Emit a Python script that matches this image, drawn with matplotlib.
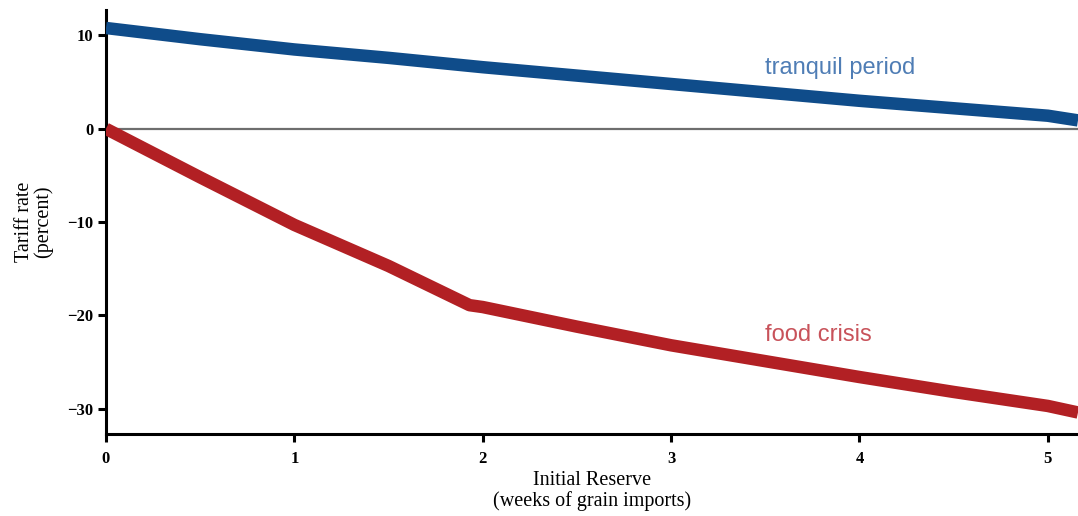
import matplotlib
matplotlib.use("Agg")
import matplotlib.pyplot as plt

# Initial reserve, weeks of grain imports
reserve_weeks = [0.0, 0.5, 1.0, 1.5, 2.0, 2.5, 3.0, 3.5, 4.0, 4.5, 5.0, 5.16]
# Optimal tariff in a tranquil period (percent)
tariff_tranquil = [10.8, 9.6, 8.5, 7.6, 6.6, 5.7, 4.8, 3.9, 3.0, 2.2, 1.4, 0.9]

# Optimal tariff during a food crisis (percent)
crisis_weeks = [0.0, 0.5, 1.0, 1.5, 1.93, 2.0, 2.5, 3.0, 3.5, 4.0, 4.5, 5.0, 5.16]
tariff_crisis = [0.0, -5.2, -10.3, -14.7, -18.9, -19.1, -21.2, -23.2, -24.9, -26.6, -28.2, -29.7, -30.4]

x_ticks = [0, 1, 2, 3, 4, 5]
y_ticks = [-30, -20, -10, 0, 10]
y_tick_labels = ["\u221230", "\u221220", "\u221210", "0", "10"]

serif = ["Liberation Serif", "DejaVu Serif"]
sans = ["Liberation Sans", "DejaVu Sans"]

fig = plt.figure(figsize=(10.78, 5.16), dpi=100)
ax = fig.add_axes([0.0983, 0.159, 0.9017, 0.822])

ax.axhline(0, color="#6e6e6e", lw=1.6, zorder=1)
ax.plot(reserve_weeks, tariff_tranquil, color="#0f4c8a", lw=9,
        solid_capstyle="butt", solid_joinstyle="round", zorder=3)
ax.plot(crisis_weeks, tariff_crisis, color="#b22024", lw=9,
        solid_capstyle="butt", solid_joinstyle="round", zorder=3)

ax.text(3.5, 6.5, "tranquil period", color="#4f7db5", fontsize=17,
        family=sans, ha="left", va="center")
ax.text(3.5, -22.1, "food crisis", color="#c8525a", fontsize=17,
        family=sans, ha="left", va="center")

ax.set_xlim(0, 5.16)
ax.set_ylim(-32.7, 12.75)
ax.set_xticks(x_ticks)
ax.set_yticks(y_ticks)
ax.set_yticklabels(y_tick_labels)

for side in ("top", "right"):
    ax.spines[side].set_visible(False)
for side in ("left", "bottom"):
    ax.spines[side].set_linewidth(2.2)
    ax.spines[side].set_color("black")

ax.tick_params(axis="both", direction="out", length=6, width=2.2,
               color="black", labelsize=12)
ax.tick_params(axis="x", pad=6)
ax.tick_params(axis="y", pad=3)
for lab in ax.get_xticklabels() + ax.get_yticklabels():
    lab.set_family(serif)
    lab.set_fontweight("bold")

ax.set_xlabel("Initial Reserve\n(weeks of grain imports)", family=serif,
              fontsize=14.5, linespacing=1.1, labelpad=3)
ax.set_ylabel("Tariff rate\n(percent)", family=serif, fontsize=14.5,
              linespacing=1.0, labelpad=10)

fig.savefig("out.png", dpi=100)
